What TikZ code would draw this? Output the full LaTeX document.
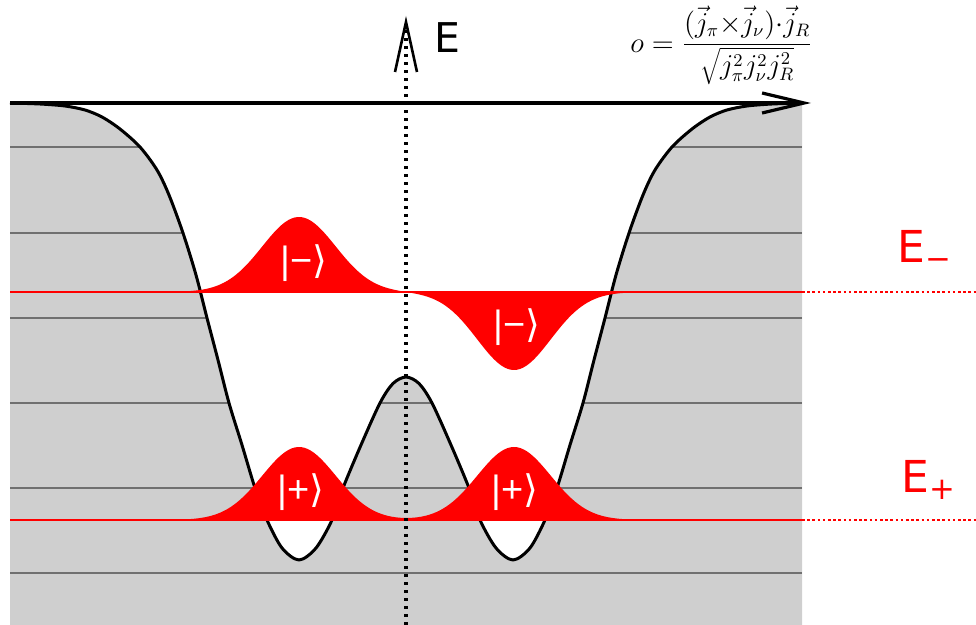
\documentclass[tikz,border=0pt]{standalone}
\usepackage{fontspec}
\setmainfont{DejaVu Sans}
\newfontfamily\libsans{Liberation Sans}
\newfontfamily\djvsans{DejaVu Sans}
\usetikzlibrary{arrows.meta}
\definecolor{wellgray}{HTML}{CFCFCF}
\definecolor{linegray}{HTML}{707070}
\definecolor{wred}{HTML}{FF0000}
\newcommand{\ketm}{{\libsans|−}{\djvsans ⟩}}
\newcommand{\ketp}{{\libsans|+}{\djvsans ⟩}}
\begin{document}
\begin{tikzpicture}[x=0.5pt,y=-0.5pt,
  levelline/.style={draw=linegray,line width=0.9pt},
  potcurve/.style={draw=black,line width=1.5pt,line join=round},
  redline/.style={draw=wred,line width=1.4pt},
  reddots/.style={draw=wred,line width=1.3pt,dash pattern=on 1.3pt off 1.3pt},
  axisdots/.style={draw=black,line width=1.6pt,dash pattern=on 1.6pt off 2.4pt},
  lobe/.style={fill=wred},
  ketlabel/.style={text=white,font=\fontsize{19}{21}\selectfont,inner sep=0pt},
  elabel/.style={text=wred,font=\fontsize{22}{24}\selectfont,inner sep=0pt}]
\useasboundingbox (0,0) rectangle (976,625);
\def\wellpath{plot[smooth,tension=0.5] coordinates {(10,103) (40,104) (65,106) (85,110) (102,117) (120,129) (140,147) (157,170) (169,195) (183,233) (196,275) (207,318) (218,360) (229,403) (242,445) (255,488) (267,520) (282,548) (299,560) (316,548) (332,520) (343,488) (361,445) (380,403) (393,383.5) (406,377) (419,383.5) (432,403) (451,445) (469,488) (480,520) (496,548) (513,560) (530,548) (545,520) (557,488) (570,445) (583,403) (594,360) (605,318) (616,275) (629,233) (643,195) (655,170) (672,147) (692,129) (710,117) (727,110) (747,106) (772,104) (802,103)}}
% gray barrier region
\fill[wellgray] \wellpath -- (802,625) -- (10,625) -- cycle;
\begin{scope}
  \clip \wellpath -- (802,625) -- (10,625) -- cycle;
  \foreach \yy in {147,233,318,403,488,573} \draw[levelline] (10,\yy) -- (802,\yy);
\end{scope}
\draw[potcurve] \wellpath;
% energy levels
\draw[redline] (10,292) -- (802,292);
\draw[reddots] (802,292) -- (976,292);
\draw[redline] (10,520) -- (802,520);
\draw[reddots] (802,520) -- (976,520);
% wave functions
\fill[lobe] plot[domain=150:662,samples=160,smooth] (\x,{292-75*exp(-((\x-299)/52)^2)+78*exp(-((\x-514)/52)^2)}) -- cycle;
\fill[lobe] plot[domain=150:662,samples=160,smooth] (\x,{520-73*exp(-((\x-299)/52)^2)-73*exp(-((\x-514)/52)^2)}) -- cycle;
\node[ketlabel] (km1) at (304,263) {\ketm};
\node[ketlabel] (km2) at (517,327) {\ketm};
\node[ketlabel] (kp1) at (301,492) {\ketp};
\node[ketlabel] (kp2) at (515,492) {\ketp};
% axes
\draw[axisdots] (406,625) -- (406,30);
\coordinate (etip) at (406,22);
\coordinate (ewl) at (395,72);
\coordinate (ewr) at (417,72);
\draw[line width=1.3pt,line join=miter] (ewl) -- (etip) -- (ewr);
\coordinate (hstart) at (10,103);
\coordinate (hend) at (811,103);
\draw[line width=1.6pt,-{Straight Barb[length=21pt,width=10pt]}] (hstart) -- (hend);
\node[text=black,font=\fontsize{20.5}{22}\selectfont,inner sep=0pt,anchor=base west] (elab) at (434,53) {E};
\node[elabel,anchor=base west] (eminus) at (897,263) {E\textsubscript{−}};
\node[elabel,anchor=base west] (eplus) at (901,493) {E\textsubscript{+}};
\node[anchor=east,inner sep=0pt,font=\fontsize{13.5}{16}\selectfont] (formula) at (813,45) {$o=\displaystyle\frac{(\vec{j}_\pi{\times}\vec{j}_\nu){\cdot}\vec{j}_R}{\sqrt{j_\pi^2j_\nu^2j_R^2}}$};
\end{tikzpicture}
\end{document}
